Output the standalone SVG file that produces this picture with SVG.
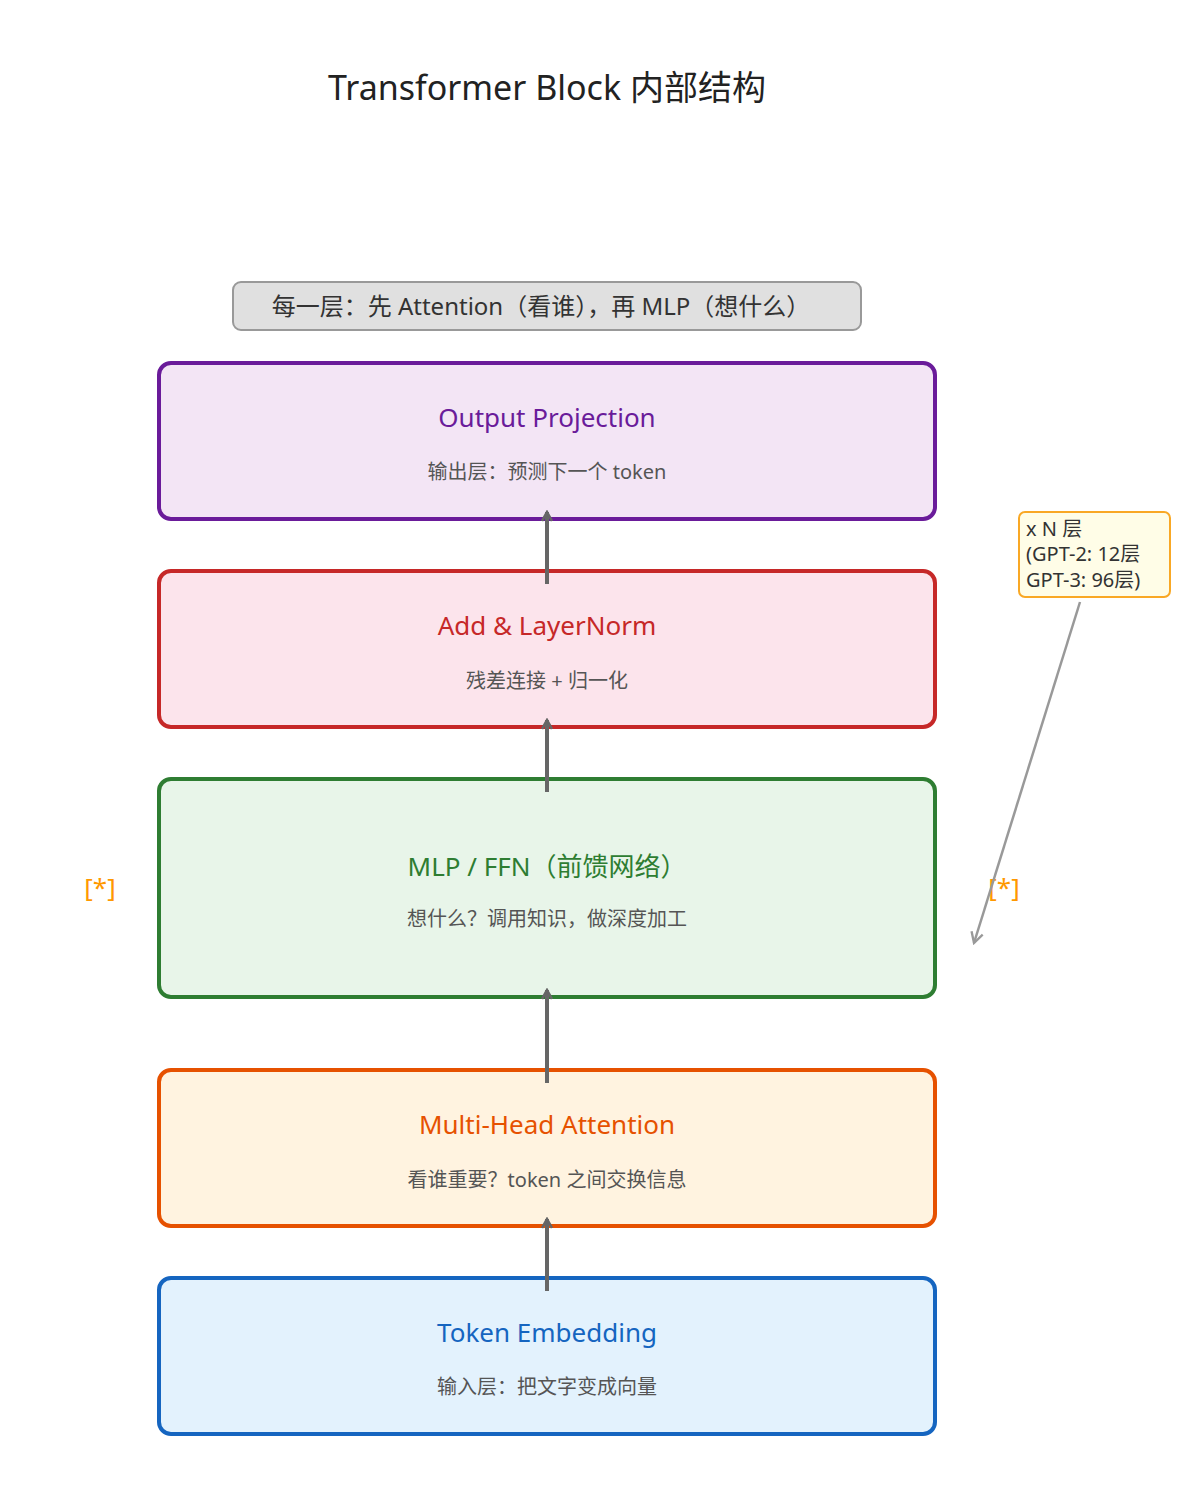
<svg xmlns="http://www.w3.org/2000/svg" width="1178" height="1485" viewBox="0 0 1178 1485">
<style>
text{font-family:"Noto Sans","Noto Sans CJK SC",sans-serif;text-anchor:middle}
.t{font-size:26px}.s{font-size:20px;fill:#555}
.ar{stroke:#666;stroke-width:4;fill:none}
</style>
<defs><marker id="a" viewBox="0 0 12 12" refX="10" refY="6" markerWidth="12" markerHeight="12" markerUnits="userSpaceOnUse" orient="auto"><path d="M1,1 L10,6 L1,11" fill="none" stroke="#666" stroke-width="2.5"/></marker>
<marker id="g" viewBox="0 0 12 12" refX="10" refY="6" markerWidth="14" markerHeight="14" markerUnits="userSpaceOnUse" orient="auto"><path d="M1,1 L10,6 L1,11" fill="none" stroke="#999" stroke-width="2"/></marker></defs>
<rect width="1178" height="1485" fill="#fff"/>
<text x="547" y="100" font-size="34" fill="#222">Transformer Block 内部结构</text>
<g id="banner"><rect x="233" y="282" width="628" height="48" rx="8" fill="#e0e0e0" stroke="#999" stroke-width="2"/><text x="541" y="315" font-size="24" fill="#333">每一层：先 Attention（看谁），再 MLP（想什么）</text></g>
<g id="out"><rect x="159" y="363" width="776" height="156" rx="12" fill="#f3e5f5" stroke="#6a1b9a" stroke-width="4"/><text class="t" x="547" y="427" fill="#6a1b9a">Output Projection</text><text class="s" x="547" y="479">输出层：预测下一个 token</text></g>
<g id="add"><rect x="159" y="571" width="776" height="156" rx="12" fill="#fce4ec" stroke="#c62828" stroke-width="4"/><text class="t" x="547" y="635" fill="#c62828">Add &amp; LayerNorm</text><text class="s" x="547" y="688">残差连接 + 归一化</text></g>
<g id="mlp"><rect x="159" y="779" width="776" height="218" rx="12" fill="#e8f5e9" stroke="#2e7d32" stroke-width="4"/><text class="t" x="547" y="876" fill="#2e7d32">MLP / FFN（前馈网络）</text><text class="s" x="547" y="926">想什么？调用知识，做深度加工</text></g>
<g id="mha"><rect x="159" y="1070" width="776" height="156" rx="12" fill="#fff3e0" stroke="#e65100" stroke-width="4"/><text class="t" x="547" y="1134" fill="#e65100">Multi-Head Attention</text><text class="s" x="547" y="1187">看谁重要？token 之间交换信息</text></g>
<g id="emb"><rect x="159" y="1278" width="776" height="156" rx="12" fill="#e3f2fd" stroke="#1565c0" stroke-width="4"/><text class="t" x="547" y="1342" fill="#1565c0">Token Embedding</text><text class="s" x="547" y="1394">输入层：把文字变成向量</text></g>
<g id="note"><rect x="1019" y="512" width="151" height="85" rx="6" fill="#fffde7" stroke="#f9a825" stroke-width="2"/><text x="1026" y="536" font-size="20" fill="#333" style="text-anchor:start">x N 层</text><text x="1026" y="561" font-size="20" fill="#333" style="text-anchor:start">(GPT-2: 12层</text><text x="1026" y="587" font-size="20" fill="#333" style="text-anchor:start"> GPT-3: 96层)</text></g>
<text x="100" y="897" font-size="26" fill="#ff9800">[*]</text>
<text x="1004" y="897" font-size="26" fill="#ff9800">[*]</text>
<g id="connectors">
<line class="ar" x1="547" y1="584" x2="547" y2="512" marker-end="url(#a)"/>
<line class="ar" x1="547" y1="792" x2="547" y2="720" marker-end="url(#a)"/>
<line class="ar" x1="547" y1="1083" x2="547" y2="990" marker-end="url(#a)"/>
<line class="ar" x1="547" y1="1291" x2="547" y2="1219" marker-end="url(#a)"/>
<line x1="1080" y1="602" x2="974" y2="943" stroke="#999" stroke-width="2.5" marker-end="url(#g)"/>
</g>
</svg>
